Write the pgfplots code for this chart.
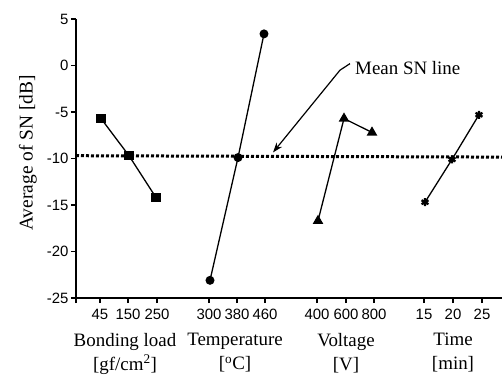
\documentclass[border=0pt]{standalone}
\usepackage{fontspec}
\setmainfont{Liberation Serif}
\setsansfont{Liberation Sans}
\usepackage{pgfplots}
\pgfplotsset{compat=1.18}
\usetikzlibrary{arrows.meta}
\begin{document}
\begin{tikzpicture}
\begin{axis}[
  scale only axis,
  width=426bp, height=279bp,
  xmin=0, xmax=426, ymin=-25, ymax=5,
  axis x line*=bottom, axis y line*=left,
  axis line style={line width=1.3bp},
  clip=false,
  tick align=outside,
  major tick length=5bp,
  tick style={line width=1.1bp, black},
  xtick={0,24,52,81,133,161,189,241,270,298,348,377,406},
  xticklabels={,45,150,250,300,380,460,400,600,800,15,20,25},
  ytick={-25,-20,-15,-10,-5,0,5},
  yticklabels={-25,-20,-15,-10,-5,0,5},
  ticklabel style={font=\sffamily\fontsize{15}{16}\selectfont},
  xticklabel style={yshift=-3bp},
  yticklabel style={xshift=1bp},
]
% mean line
\addplot[black, line width=3bp, dash pattern=on 3bp off 2bp] coordinates {(0,-9.7) (426,-9.85)};
% Bonding load
\addplot[black, line width=1.3bp, mark=square*, mark size=4bp, mark options={solid}] coordinates {(25,-5.7) (53,-9.7) (80,-14.2)};
% Temperature
\addplot[black, line width=1.3bp, mark=*, mark size=3.8bp] coordinates {(134,-23.1) (162,-9.9) (188,3.4)};
% Voltage
\addplot[black, line width=1.3bp, mark=triangle*, mark size=4.8bp] coordinates {(242,-16.7) (268,-5.7) (296,-7.2)};
% Time
\addplot[black, line width=1.3bp, mark=asterisk, mark size=4bp, mark options={line width=2.3bp}] coordinates {(349,-14.7) (376,-10.1) (403,-5.3)};
% annotation
\draw[black, line width=1.2bp, -{Stealth[length=10bp,width=7bp]}] (axis cs:274,0.2) -- (axis cs:264,-0.5) -- (axis cs:197,-9.35);
\node[anchor=west, inner sep=0pt, font=\fontsize{19}{21}\selectfont] at (axis cs:279,-0.3) {Mean SN line};
% group labels
\node[align=center, anchor=north, inner sep=0pt, font=\fontsize{19}{24}\selectfont] at (axis cs:49,-28.75) {Bonding load\\{}[gf/cm\textsuperscript{2}]};
\node[align=center, anchor=north, inner sep=0pt, font=\fontsize{19}{24}\selectfont] at (axis cs:159,-28.75) {Temperature\\{}[\textsuperscript{o}C]};
\node[align=center, anchor=north, inner sep=0pt, font=\fontsize{19}{24}\selectfont] at (axis cs:270,-28.75) {Voltage\\{}[V]};
\node[align=center, anchor=north, inner sep=0pt, font=\fontsize{19}{24}\selectfont] at (axis cs:377,-28.75) {Time\\{}[min]};
% y label
\node[rotate=90, inner sep=0pt, font=\fontsize{19.5}{21}\selectfont] at (axis cs:-48,-9.4) {Average of SN [dB]};
\end{axis}
\pgfresetboundingbox
\path ([xshift=-76bp,yshift=-78bp]current axis.south west) rectangle ([yshift=19bp]current axis.north east);
\end{tikzpicture}
\end{document}
